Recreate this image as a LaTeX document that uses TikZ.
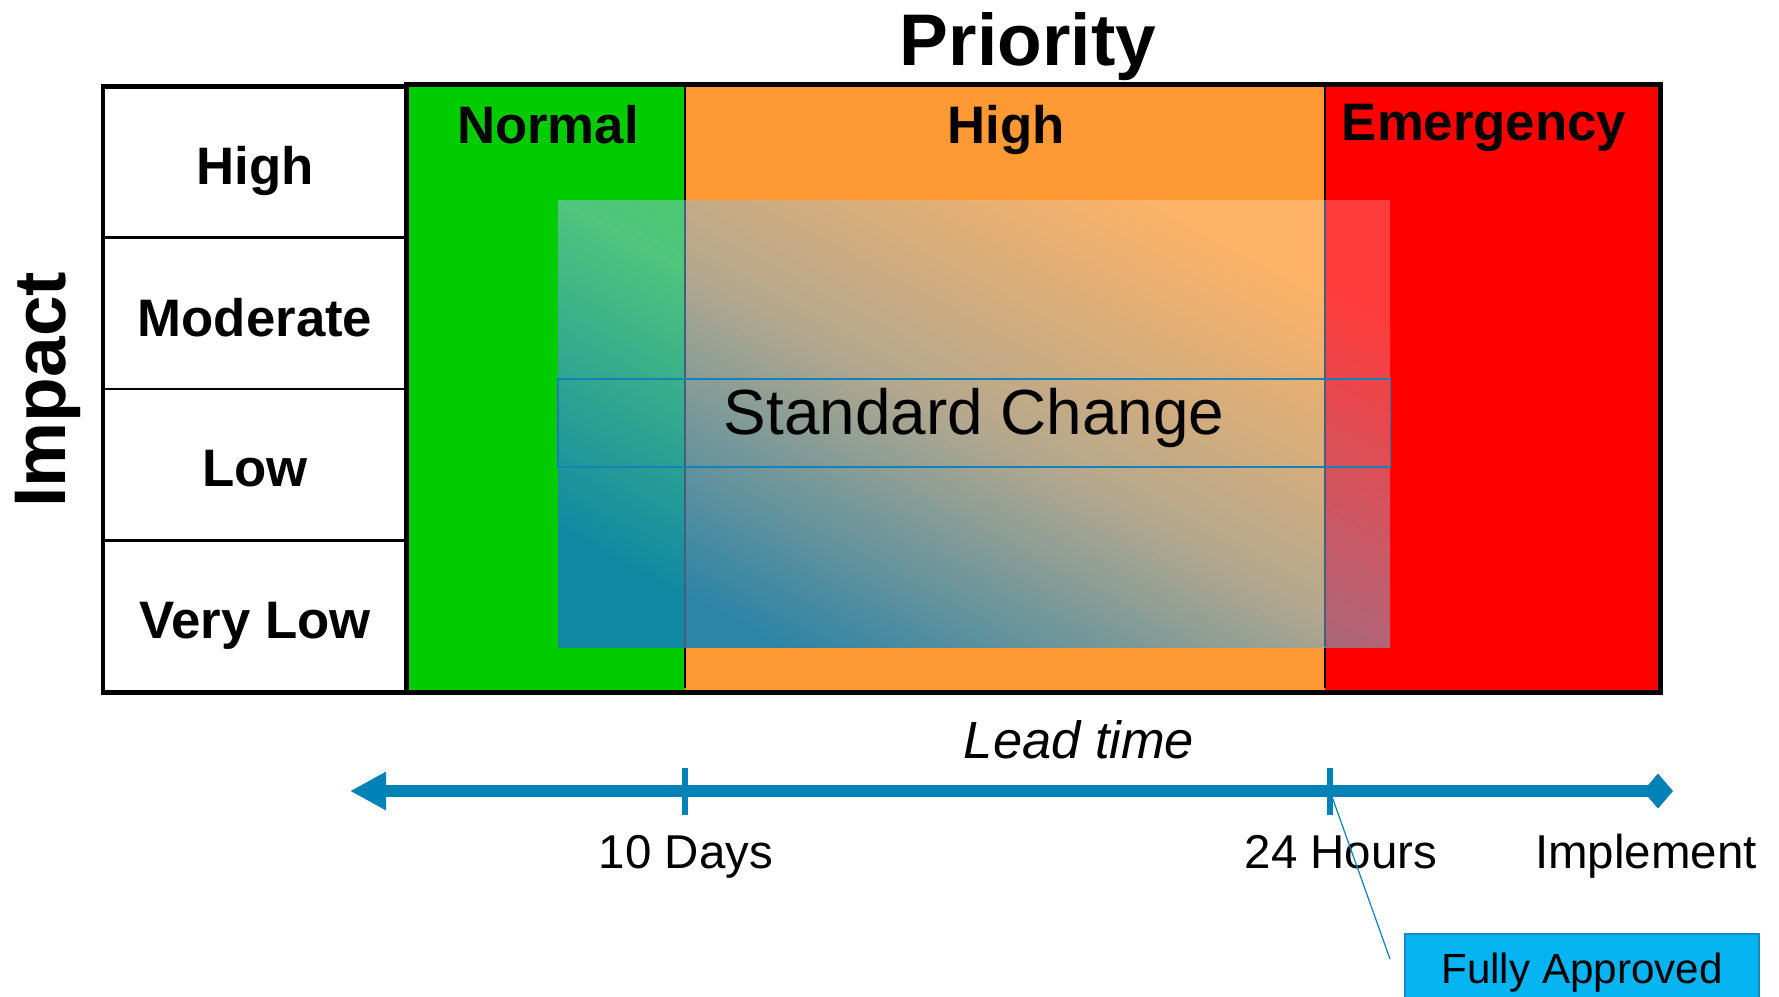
\documentclass[tikz,border=0pt]{standalone}
\usepackage{fontspec}
\setmainfont{Liberation Sans}
\usetikzlibrary{arrows.meta}
\definecolor{cgreen}{RGB}{0,204,0}
\definecolor{corange}{RGB}{255,153,51}
\definecolor{cred}{RGB}{255,0,0}
\definecolor{axisblue}{RGB}{0,130,182}
\definecolor{lineblue}{RGB}{20,130,185}
\definecolor{boxcyan}{RGB}{5,180,240}
\definecolor{boxedge}{RGB}{20,140,195}
\definecolor{gAa}{RGB}{18,137,162}\definecolor{gAb}{RGB}{79,197,125}\definecolor{gAc}{RGB}{64,217,64}
\definecolor{gBa}{RGB}{44,132,167}\definecolor{gBb}{RGB}{180,168,142}\definecolor{gBc}{RGB}{255,179,102}
\definecolor{gCa}{RGB}{44,117,162}\definecolor{gCb}{RGB}{180,100,118}\definecolor{gCc}{RGB}{255,60,60}
\definecolor{slate}{RGB}{70,95,120}
\tikzset{
  frame/.style={draw=black, line width=1.42pt},
  rowline/.style={draw=black, line width=0.71pt},
  divider/.style={draw=black, line width=0.77pt},
  rowlabel/.style={anchor=base, inner sep=0pt, font=\fontsize{15}{18}\selectfont\bfseries},
  colhead/.style={anchor=base, inner sep=0pt, font=\fontsize{15}{18}\selectfont\bfseries},
  bigtitle/.style={anchor=base, inner sep=0pt, font=\fontsize{20.8}{25}\selectfont\bfseries},
  scbox/.style={draw=lineblue, line width=0.43pt, inner sep=0pt, minimum width=8.32cm,
    text height=0.55cm, text depth=0.33cm, font=\fontsize{18.15}{22}\selectfont},
  axisline/.style={draw=axisblue, line width=3.27pt,
    {Triangle[length=0.36cm,width=0.36cm]}-{Diamond[length=0.30cm,width=0.35cm]}},
  tickmark/.style={draw=axisblue, line width=1.7pt},
  axislabel/.style={anchor=base, inner sep=0pt, font=\fontsize{13.5}{16}\selectfont},
  callout/.style={draw=lineblue, line width=0.35pt},
  fabox/.style={fill=boxcyan, draw=boxedge, line width=0.45pt, inner sep=0pt,
    minimum width=3.54cm, text height=0.49cm, text depth=0.21cm, font=\fontsize{12}{14}\selectfont},
}
\begin{document}
\begin{tikzpicture}[x=0.01cm,y=-0.01cm]
\useasboundingbox (0,0) rectangle (1779,996);
\clip (0,0) rectangle (1779,996);
\fill[white] (0,0) rectangle (1779,996);
% priority columns
\fill[cgreen] (406,84) rectangle (685,692);
\fill[corange] (685,84) rectangle (1325,692);
\fill[cred] (1325,84) rectangle (1660,692);
\draw[divider] (685,84) -- (685,688);
\draw[divider] (1325,84) -- (1325,688);
% standard change gradient area
\foreach \xa/\xb/\ca/\cb/\cc in {558/685/gAa/gAb/gAc, 685/1325/gBa/gBb/gBc, 1325/1390/gCa/gCb/gCc}{
  \begin{scope}
    \clip (\xa,200) rectangle (\xb,647);
    \shade[bottom color=\ca, top color=\cc, middle color=\cb, shading angle=-28.3] (558,200) rectangle (1390,647);
  \end{scope}
}
\draw[divider, draw=slate] (685,200) -- (685,647);
\draw[divider, draw=slate] (1325,200) -- (1325,647);
\node[scbox] (sc) at (974,423) {Standard Change};
% frames
\draw[frame] (406,84) rectangle (1660,692);
\draw[frame] (103,86) rectangle (406,692);
\draw[rowline] (103,237.5) -- (406,237.5);
\draw[rowline] (103,389) -- (406,389);
\draw[rowline] (103,540.5) -- (406,540.5);
% texts
\node[bigtitle] (prio) at (1028,65) {Priority};
\node[bigtitle, rotate=90] (imp) at (65,389.5) {Impact};
\node[colhead] (hN) at (548,143) {Normal};
\node[colhead] (hH) at (1006,143) {High};
\node[colhead] (hE) at (1484,140) {Emergency};
\node[rowlabel] (r1) at (255,184) {High};
\node[rowlabel] (r2) at (255,336) {Moderate};
\node[rowlabel] (r3) at (255,486) {Low};
\node[rowlabel] (r4) at (255,638) {Very Low};
% lead time axis
\node[anchor=base, inner sep=0pt, font=\fontsize{14.9}{18}\selectfont\itshape] (lead) at (1079,758) {Lead time};
\coordinate (aL) at (350,791);
\coordinate (aR) at (1673,791);
\coordinate (t10) at (685,791);
\coordinate (t24) at (1330,791);
\draw[axisline] (aL) -- (aR);
\draw[tickmark] (685,768) -- (685,815);
\draw[tickmark] (1330,768) -- (1330,815);
\node[axislabel] (l10) at (686,868) {10 Days};
\node[axislabel] (l24) at (1341,868) {24 Hours};
\node[axislabel] (limp) at (1646,868) {Implement};
\node[fabox] (fa) at (1582,969) {Fully Approved};
\coordinate (cEnd) at (1390,959);
\draw[callout] (t24) -- (cEnd);
\end{tikzpicture}
\end{document}
